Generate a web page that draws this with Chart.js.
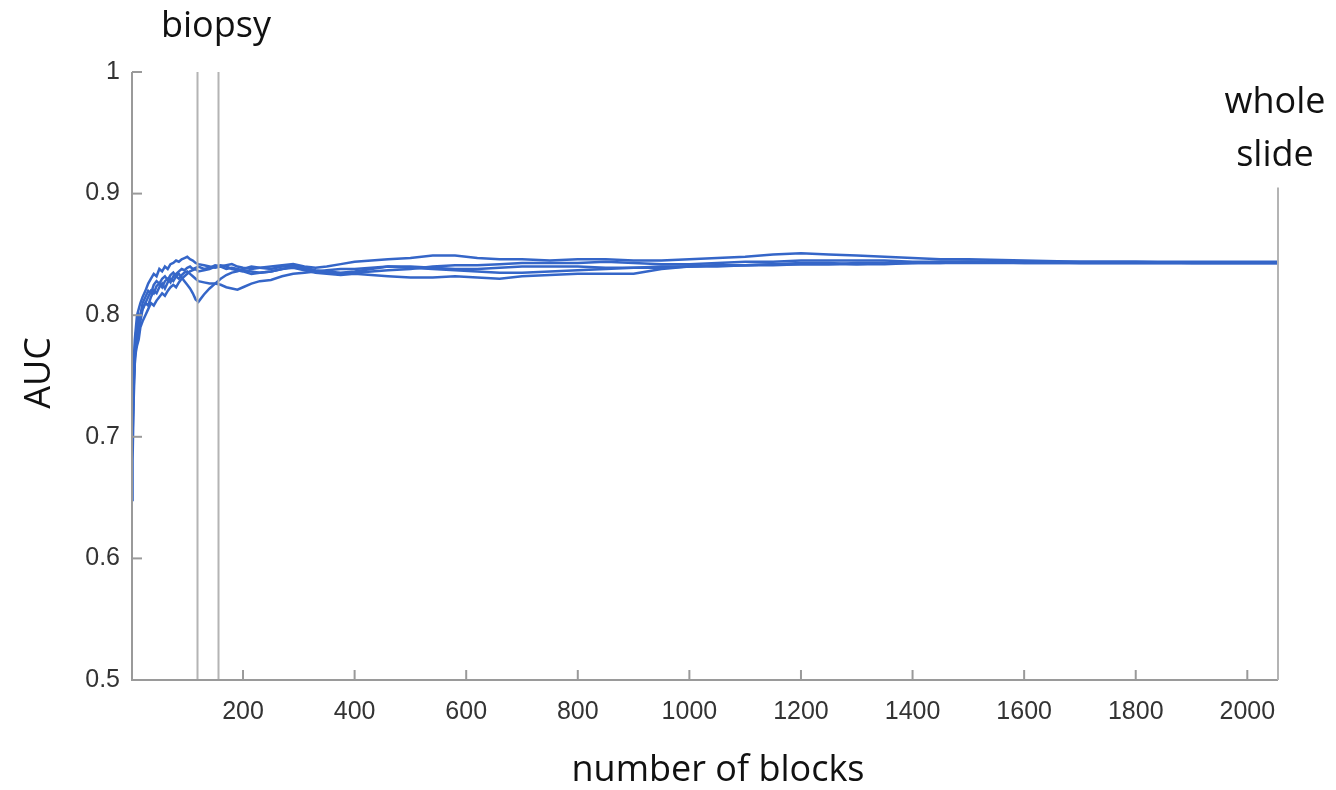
<!DOCTYPE html>
<html>
<head>
<meta charset="utf-8">
<script src="https://cdn.jsdelivr.net/npm/chart.js@4/dist/chart.umd.min.js"></script>
<style>
html,body{margin:0;padding:0;background:#fff;}
#wrap{width:1336px;height:790px;position:relative;}
</style>
</head>
<body>
<div id="wrap"><canvas id="c" width="1336" height="790"></canvas></div>
<script>
const blocks = [1,2,4,6,8,10,13,16,20,25,30,35,40,45,50,55,60,65,70,75,80,85,90,95,100,105,110,115,120,130,140,150,160,170,180,190,200,215,230,250,270,290,310,330,350,375,400,430,460,500,540,580,620,660,700,750,800,850,900,950,1000,1050,1100,1150,1200,1250,1300,1350,1400,1450,1500,1600,1700,1800,1900,2000,2055];

const run1 = [0.72,0.73,0.76,0.78,0.79,0.80,0.805,0.81,0.815,0.82,0.826,0.83,0.834,0.832,0.838,0.836,0.840,0.838,0.842,0.843,0.845,0.844,0.846,0.847,0.848,0.846,0.845,0.843,0.842,0.841,0.840,0.839,0.840,0.838,0.839,0.838,0.837,0.836,0.835,0.836,0.838,0.840,0.839,0.837,0.836,0.835,0.836,0.838,0.840,0.839,0.838,0.837,0.836,0.835,0.835,0.836,0.837,0.838,0.839,0.840,0.840,0.841,0.841,0.842,0.842,0.842,0.842,0.843,0.843,0.844,0.844,0.843,0.843,0.843,0.843,0.843,0.843];

const run2 = [0.70,0.72,0.75,0.77,0.775,0.78,0.79,0.80,0.805,0.81,0.815,0.82,0.818,0.824,0.826,0.823,0.828,0.830,0.827,0.832,0.834,0.836,0.838,0.837,0.839,0.840,0.838,0.839,0.840,0.838,0.839,0.841,0.840,0.841,0.842,0.840,0.839,0.838,0.839,0.840,0.841,0.842,0.840,0.839,0.840,0.842,0.844,0.845,0.846,0.847,0.849,0.849,0.847,0.846,0.846,0.845,0.846,0.846,0.845,0.845,0.846,0.847,0.848,0.850,0.851,0.850,0.849,0.848,0.847,0.846,0.846,0.845,0.844,0.844,0.844,0.844,0.844];

const run3 = [0.69,0.70,0.74,0.77,0.785,0.79,0.80,0.795,0.805,0.81,0.808,0.815,0.82,0.818,0.823,0.826,0.822,0.827,0.830,0.828,0.832,0.834,0.831,0.828,0.825,0.822,0.818,0.813,0.811,0.817,0.822,0.826,0.830,0.833,0.835,0.836,0.838,0.840,0.839,0.838,0.840,0.841,0.838,0.836,0.835,0.834,0.835,0.836,0.837,0.838,0.840,0.841,0.841,0.842,0.843,0.843,0.843,0.844,0.843,0.842,0.842,0.843,0.844,0.844,0.845,0.845,0.845,0.845,0.844,0.844,0.844,0.844,0.844,0.844,0.843,0.843,0.843];

const run4 = [0.648,0.68,0.73,0.76,0.77,0.775,0.78,0.79,0.795,0.80,0.805,0.81,0.808,0.812,0.815,0.818,0.816,0.820,0.823,0.825,0.823,0.827,0.830,0.832,0.834,0.836,0.837,0.838,0.836,0.837,0.838,0.840,0.841,0.840,0.838,0.837,0.836,0.834,0.835,0.836,0.838,0.839,0.837,0.835,0.834,0.833,0.834,0.833,0.832,0.831,0.831,0.832,0.831,0.830,0.832,0.833,0.834,0.834,0.834,0.838,0.840,0.840,0.841,0.841,0.842,0.842,0.843,0.843,0.843,0.843,0.843,0.843,0.843,0.843,0.843,0.843,0.843];

const run5 = [0.72,0.71,0.745,0.765,0.775,0.785,0.79,0.80,0.81,0.815,0.82,0.818,0.825,0.828,0.826,0.830,0.832,0.829,0.833,0.835,0.832,0.830,0.833,0.835,0.836,0.834,0.832,0.830,0.828,0.827,0.826,0.826,0.825,0.823,0.822,0.821,0.823,0.826,0.828,0.829,0.832,0.834,0.835,0.836,0.837,0.838,0.838,0.839,0.840,0.840,0.839,0.838,0.838,0.839,0.840,0.840,0.840,0.839,0.839,0.839,0.840,0.841,0.841,0.842,0.843,0.843,0.842,0.842,0.843,0.843,0.844,0.844,0.843,0.843,0.843,0.843,0.843];

const xTicks = [200,400,600,800,1000,1200,1400,1600,1800,2000];
const yTicks = [0.5,0.6,0.7,0.8,0.9,1];
const biopsyLines = [118,155];
const lineColor = '#3566c8';

const runs = [run1, run2, run3, run4, run5];
const datasets = runs.map(r => ({
  data: blocks.map((b,i) => ({x:b, y:r[i]})),
  borderColor: lineColor,
  borderWidth: 2.5,
  pointRadius: 0,
  tension: 0,
  fill: false
}));

const decor = {
  id: 'decor',
  afterDatasetsDraw(chart) {
    const ctx = chart.ctx;
    const xs = chart.scales.x, ys = chart.scales.y;
    const a = chart.chartArea;
    ctx.save();
    ctx.strokeStyle = '#b4b4b4';
    ctx.lineWidth = 2;
    biopsyLines.forEach(v => {
      const px = Math.round(xs.getPixelForValue(v)) + 0.5;
      ctx.beginPath(); ctx.moveTo(px, a.top); ctx.lineTo(px, a.bottom); ctx.stroke();
    });
    ctx.strokeStyle = '#9a9a9a';
    ctx.lineWidth = 2;
    ctx.beginPath();
    ctx.moveTo(a.left, a.top); ctx.lineTo(a.left, a.bottom); ctx.lineTo(a.right, a.bottom);
    ctx.stroke();
    ctx.strokeStyle = '#b4b4b4';
    ctx.beginPath();
    ctx.moveTo(a.right, ys.getPixelForValue(0.905)); ctx.lineTo(a.right, a.bottom);
    ctx.stroke();
    ctx.strokeStyle = '#9a9a9a';
    ctx.lineWidth = 2;
    xTicks.forEach(v => {
      const px = xs.getPixelForValue(v);
      ctx.beginPath(); ctx.moveTo(px, a.bottom); ctx.lineTo(px, a.bottom - 10); ctx.stroke();
    });
    yTicks.forEach(v => {
      const py = ys.getPixelForValue(v);
      ctx.beginPath(); ctx.moveTo(a.left, py); ctx.lineTo(a.left + 10, py); ctx.stroke();
    });
    ctx.fillStyle = '#111';
    ctx.textAlign = 'center';
    ctx.textBaseline = 'alphabetic';
    ctx.font = '36px "Open Sans"';
    ctx.fillText('biopsy', 216, 37);
    ctx.fillText('whole', 1275, 113);
    ctx.fillText('slide', 1275, 166);
    ctx.fillText('number of blocks', 718, 781);
    ctx.save();
    ctx.translate(50, 373);
    ctx.rotate(-Math.PI / 2);
    ctx.fillText('AUC', 0, 0);
    ctx.restore();
    ctx.restore();
  }
};

new Chart(document.getElementById('c'), {
  type: 'line',
  data: { datasets },
  options: {
    responsive: false,
    animation: false,
    events: [],
    layout: { padding: { left: 0, right: 58, top: 72, bottom: 0 } },
    plugins: { legend: { display: false }, tooltip: { enabled: false } },
    scales: {
      x: {
        type: 'linear',
        min: 1, max: 2055,
        grid: { display: false },
        border: { display: false },
        afterBuildTicks(s) { s.ticks = xTicks.map(v => ({ value: v })); },
        afterFit(s) { s.height = 110; },
        ticks: {
          color: '#333',
          font: { family: '"Liberation Sans", Arial, sans-serif', size: 25 },
          padding: 9,
          maxRotation: 0,
          autoSkip: false,
          callback: v => String(v)
        }
      },
      y: {
        min: 0.5, max: 1,
        grid: { display: false },
        border: { display: false },
        afterBuildTicks(s) { s.ticks = yTicks.map(v => ({ value: v })); },
        afterFit(s) { s.width = 132; },
        ticks: {
          color: '#333',
          font: { family: '"Liberation Sans", Arial, sans-serif', size: 25 },
          padding: 4,
          callback: v => (v === 1 ? '1' : v.toFixed(1))
        }
      }
    }
  },
  plugins: [decor]
});
</script>
</body>
</html>
